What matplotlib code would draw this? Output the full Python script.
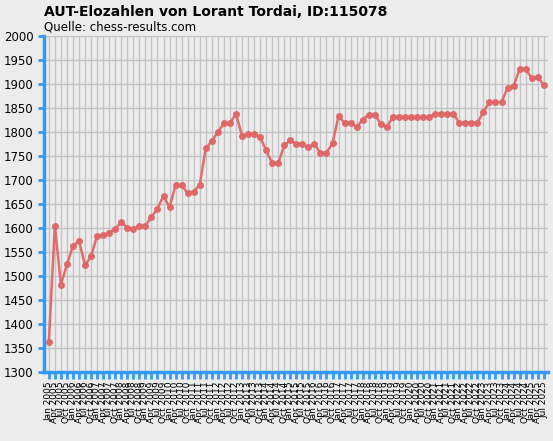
import matplotlib
matplotlib.use("Agg")
import matplotlib.pyplot as plt

elo = [1362,1605,1482,1524,1563,1573,1522,1541,1584,1585,1590,1598,1612,1601,1598,1604,1605,
       1623,1640,1667,1643,1690,1690,1672,1676,1690,1766,1781,1800,1818,1818,1838,1792,1795,
       1795,1789,1762,1735,1735,1772,1783,1775,1775,1768,1775,1756,1756,1777,1833,1819,1819,
       1810,1826,1836,1836,1817,1810,1831,1831,1831,1831,1831,1831,1831,1838,1838,1838,1838,
       1819,1819,1819,1819,1842,1862,1862,1862,1892,1896,1931,1931,1912,1915,1898]
months = ["Jan","Apr","Jul","Oct"]
labels = [f"{months[i % 4]} {2005 + i // 4}" for i in range(len(elo))]

fig = plt.figure(figsize=(5.53, 4.41), dpi=100, facecolor="#ECECEC")
ax = fig.add_axes([44/553, 1-372/441, (548-44)/553, (372-36)/441])
ax.set_facecolor("#ECECEC")
x = list(range(len(elo)))
ax.plot(x, elo, color="#E06666", lw=1.8, marker="o", ms=4, alpha=0.95)
ax.set_xlim(-0.8, len(elo)-0.3)
ax.set_ylim(1300, 2000)
ax.set_yticks(range(1300, 2001, 50))
ax.set_xticks(x)
ax.set_xticklabels(labels, rotation=90, fontsize=6.5)
ax.tick_params(axis="y", labelsize=8.5, color="#3399FF", length=4, width=2)
ax.tick_params(axis="x", color="#3399FF", length=5, width=2, pad=2)
ax.grid(True, color="#C4C4C4", lw=1)
ax.set_axisbelow(True)
for s in ["top", "right"]:
    ax.spines[s].set_visible(False)
for s in ["left", "bottom"]:
    ax.spines[s].set_color("#3399FF")
    ax.spines[s].set_linewidth(2.5)
fig.text(44/553, 1-12/441, "AUT-Elozahlen von Lorant Tordai, ID:115078", fontsize=10, fontweight="bold", va="center")
fig.text(44/553, 1-27/441, "Quelle: chess-results.com", fontsize=8.5, va="center")
fig.savefig("out.png", dpi=100, facecolor=fig.get_facecolor())
